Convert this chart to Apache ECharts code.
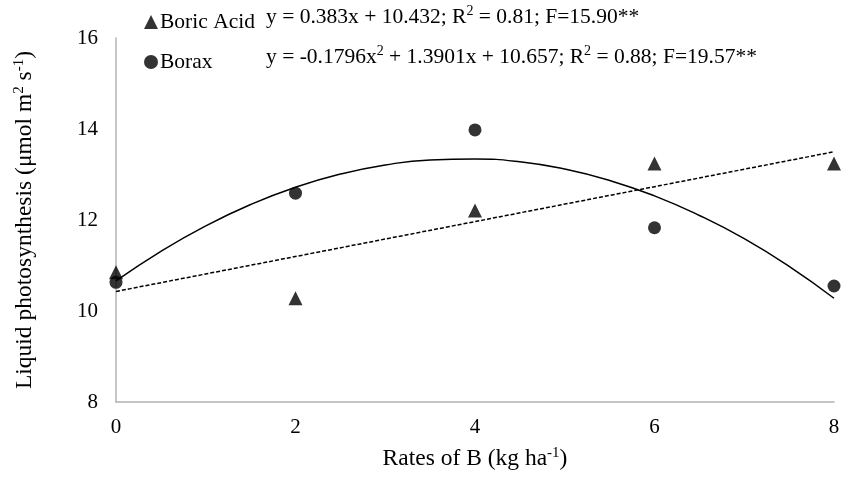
<!DOCTYPE html>
<html>
<head>
<meta charset="utf-8">
<script src="https://cdn.jsdelivr.net/npm/echarts@6/dist/echarts.min.js"></script>
<style>
  html, body { margin: 0; padding: 0; background: #fff; }
  #chart { width: 845px; height: 478px; }
</style>
</head>
<body>
<div id="chart"></div>
<script>
// rates of B (kg/ha)
let rates = [0, 2, 4, 6, 8];
// measured points
let boricAcid = [10.85, 10.28, 12.21, 13.24, 13.24];
let borax = [10.63, 12.59, 13.98, 11.83, 10.55];

// fitted lines
let boricFitX = [0, 8];
let boricFitY = [10.43, 13.50];
let boraxFitX = [0, 0.5, 1, 1.5, 2, 2.5, 3, 3.5, 4, 4.5, 5, 5.5, 6, 6.5, 7, 7.5, 8];
let boraxFitY = [10.66, 11.31, 11.87, 12.34, 12.72, 13.01, 13.21, 13.32, 13.34, 13.28, 13.12, 12.87, 12.53, 12.10, 11.59, 10.98, 10.28];

const font = '"Liberation Serif", "Times New Roman", serif';

function pairs(xs, ys) {
    let out = [];
    for (let i = 0; i < xs.length; i++) out.push([xs[i], ys[i]]);
    return out;
}

let supStyle = { fontFamily: font, fontSize: 14, verticalAlign: 'top', lineHeight: 26, fill: '#000', color: '#000' };
let nameSup = { fontFamily: font, fontSize: 15, verticalAlign: 'top', lineHeight: 26, color: '#000' };

let option = {
    animation: false,
    backgroundColor: '#fff',
    textStyle: { fontFamily: font, color: '#000' },
    grid: { left: 116, right: 11, top: 38, bottom: 76 },
    legend: {
        orient: 'vertical',
        left: 139,
        top: 4,
        itemGap: 14,
        itemWidth: 14,
        itemHeight: 14,
        data: [
            { name: 'Boric Acid', icon: 'triangle' },
            { name: 'Borax', icon: 'circle' }
        ],
        textStyle: { fontFamily: font, fontSize: 21.5, lineHeight: 26, color: '#000', padding: [0, 0, 0, -3] }
    },
    graphic: [
        {
            type: 'text', left: 266, top: 4,
            style: {
                text: 'y = 0.383x + 10.432; R{s|2} = 0.81; F=15.90**',
                rich: { s: supStyle },
                font: '21.5px ' + font,
                fill: '#000',
                lineHeight: 26
            }
        },
        {
            type: 'text', left: 266, top: 44,
            style: {
                text: 'y = -0.1796x{s|2} + 1.3901x + 10.657; R{s|2} = 0.88; F=19.57**',
                rich: { s: supStyle },
                font: '21.5px ' + font,
                fill: '#000',
                lineHeight: 26
            }
        }
    ],
    xAxis: {
        type: 'value',
        min: 0,
        max: 8,
        interval: 2,
        name: 'Rates of B (kg ha{s|-1})',
        nameLocation: 'middle',
        nameGap: 44,
        nameTextStyle: { fontFamily: font, fontSize: 23.5, color: '#000', lineHeight: 26, rich: { s: nameSup } },
        axisLine: { lineStyle: { color: '#b3b3b3', width: 1.5 } },
        axisTick: { show: false },
        splitLine: { show: false },
        axisLabel: { fontFamily: font, fontSize: 21, color: '#000', margin: 15 }
    },
    yAxis: {
        type: 'value',
        min: 8,
        max: 16,
        interval: 2,
        name: 'Liquid photosynthesis (μmol m{s|2} s{s|-1})',
        nameLocation: 'middle',
        nameGap: 78,
        nameRotate: 90,
        nameTextStyle: { fontFamily: font, fontSize: 23.5, color: '#000', lineHeight: 26, rich: { s: nameSup } },
        axisLine: { show: true, lineStyle: { color: '#b3b3b3', width: 1.5 } },
        axisTick: { show: false },
        splitLine: { show: false },
        axisLabel: { fontFamily: font, fontSize: 21, color: '#000', margin: 18 }
    },
    series: [
        {
            name: 'Boric Acid fit',
            type: 'line',
            data: pairs(boricFitX, boricFitY),
            showSymbol: false,
            lineStyle: { color: '#000', width: 1.5, type: [4, 2] },
            silent: true,
            z: 1
        },
        {
            name: 'Borax fit',
            type: 'line',
            data: pairs(boraxFitX, boraxFitY),
            smooth: true,
            showSymbol: false,
            lineStyle: { color: '#000', width: 1.5 },
            silent: true,
            z: 1
        },
        {
            name: 'Boric Acid',
            type: 'scatter',
            symbol: 'triangle',
            symbolSize: 14,
            itemStyle: { color: '#000' },
            data: pairs(rates, boricAcid),
            z: 3
        },
        {
            name: 'Borax',
            type: 'scatter',
            symbol: 'circle',
            symbolSize: 13,
            itemStyle: { color: '#000' },
            data: pairs(rates, borax),
            z: 3
        }
    ]
};

let chart = echarts.init(document.getElementById('chart'));
chart.setOption(option);
</script>
</body>
</html>
